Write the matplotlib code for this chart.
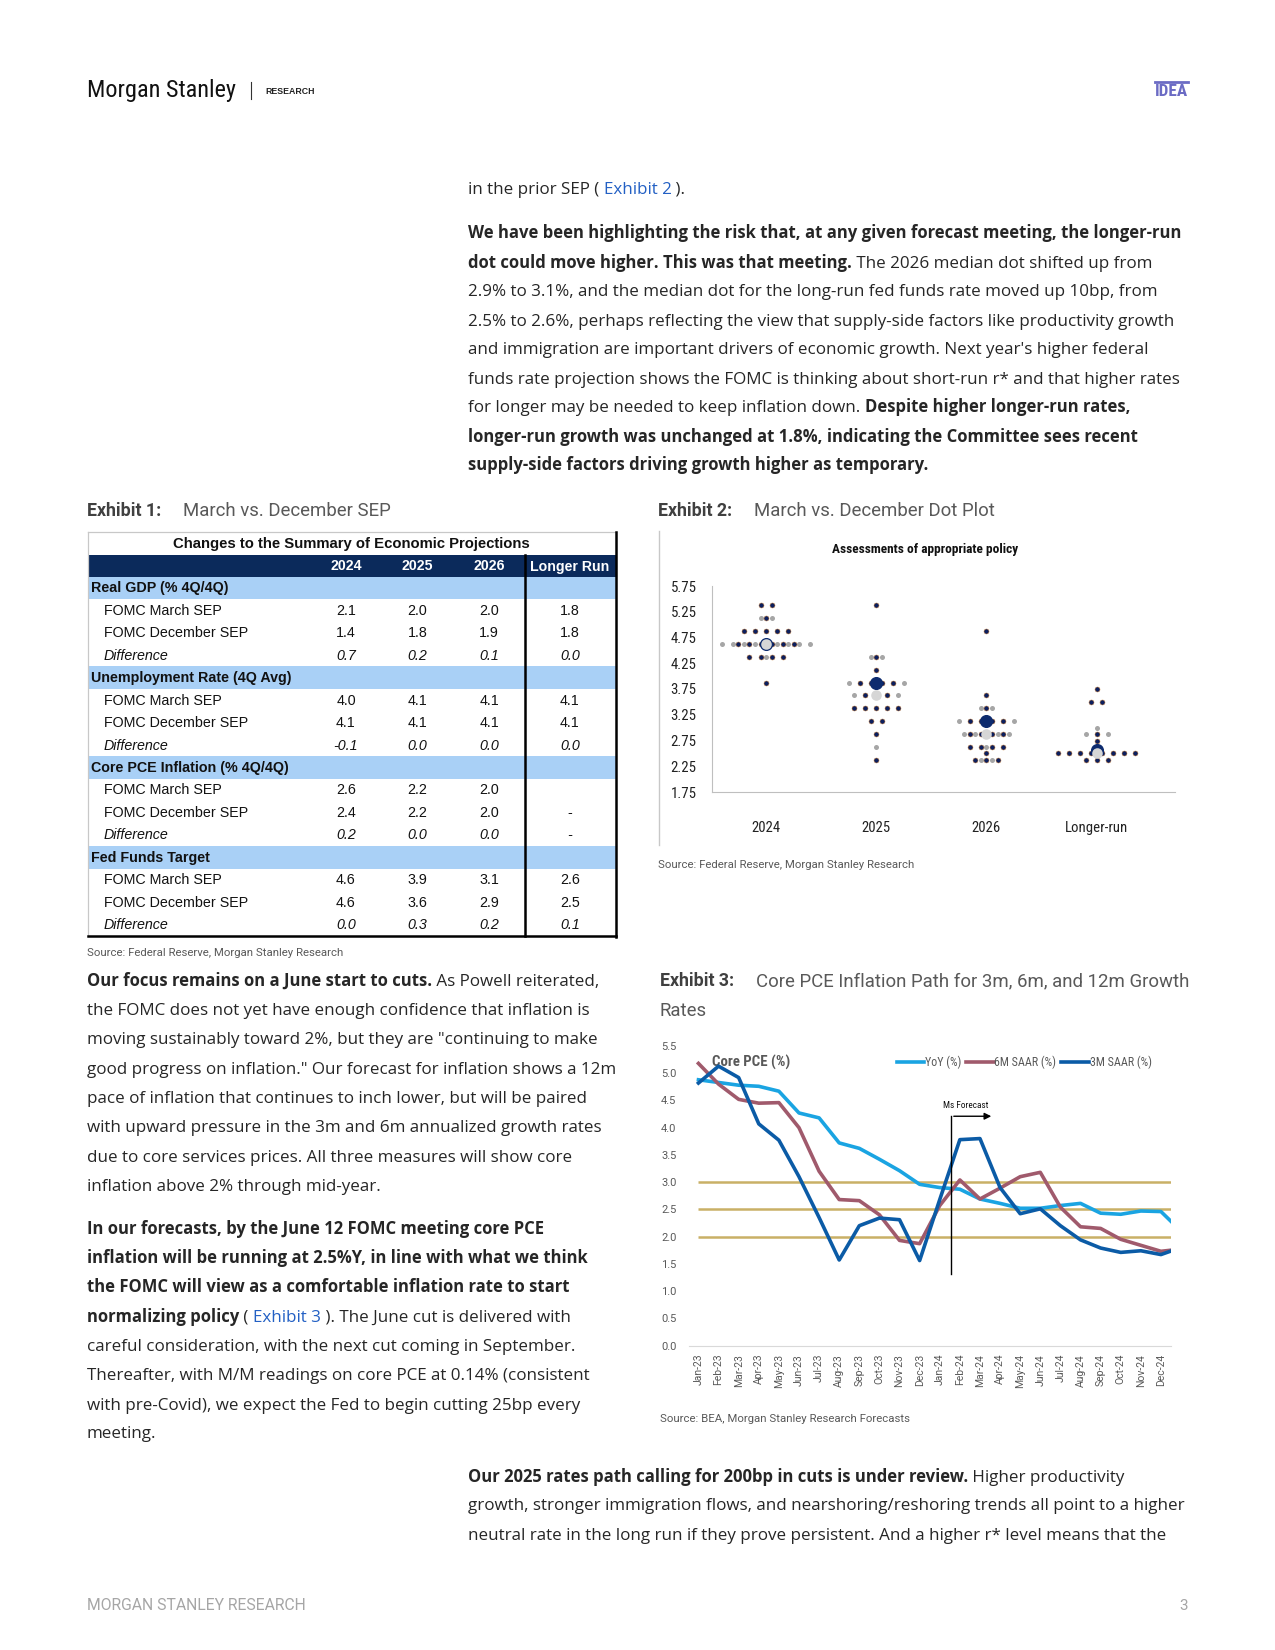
import matplotlib
matplotlib.use("Agg")
import matplotlib.pyplot as plt
from matplotlib.lines import Line2D
from matplotlib import font_manager
import numpy as np

W, H = 1275, 1650

# ---------------- Exhibit 1 data ----------------
sep_cols = ["2024", "2025", "2026", "Longer Run"]
sep_sections = ["Real GDP (% 4Q/4Q)", "Unemployment Rate (4Q Avg)",
                "Core PCE Inflation (% 4Q/4Q)", "Fed Funds Target"]
sep_rows = ["FOMC March SEP", "FOMC December SEP", "Difference"]
gdp_vals = [["2.1", "2.0", "2.0", "1.8"], ["1.4", "1.8", "1.9", "1.8"], ["0.7", "0.2", "0.1", "0.0"]]
unemp_vals = [["4.0", "4.1", "4.1", "4.1"], ["4.1", "4.1", "4.1", "4.1"], ["-0.1", "0.0", "0.0", "0.0"]]
pce_vals = [["2.6", "2.2", "2.0", ""], ["2.4", "2.2", "2.0", "-"], ["0.2", "0.0", "0.0", "-"]]
ffr_vals = [["4.6", "3.9", "3.1", "2.6"], ["4.6", "3.6", "2.9", "2.5"], ["0.0", "0.3", "0.2", "0.1"]]

# ---------------- Exhibit 2 data (rate, number of dots) ----------------
dot_cats = ["2024", "2025", "2026", "Longer-run"]
mar_2024 = [(5.375, 2), (5.125, 1), (4.875, 5), (4.625, 6), (4.375, 4), (3.875, 1)]
mar_2025 = [(5.375, 1), (4.375, 1), (4.125, 1), (3.875, 4), (3.625, 3), (3.375, 5),
            (3.125, 2), (2.875, 1), (2.375, 1)]
mar_2026 = [(4.875, 1), (3.625, 1), (3.375, 1), (3.125, 4), (2.875, 4), (2.625, 4),
            (2.5, 1), (2.375, 3)]
mar_lr = [(3.75, 1), (3.5, 2), (2.875, 1), (2.75, 1), (2.625, 1), (2.5, 8), (2.375, 3)]
dec_2024 = [(5.125, 2), (4.875, 5), (4.625, 9), (4.375, 1)]
dec_2025 = [(4.375, 2), (3.875, 6), (3.625, 5), (3.375, 5), (2.625, 1)]
dec_2026 = [(3.375, 2), (3.125, 6), (2.875, 5), (2.625, 1), (2.375, 2)]
dec_lr = [(3.0, 1), (2.875, 3), (2.5, 6)]
mar_medians = [4.625, 3.875, 3.125, 2.5625]
dec_medians = [4.625, 3.625, 2.875, 2.5]
dot_yticks = [5.75, 5.25, 4.75, 4.25, 3.75, 3.25, 2.75, 2.25, 1.75]

# ---------------- Exhibit 3 data ----------------
months = ["Jan-23", "Feb-23", "Mar-23", "Apr-23", "May-23", "Jun-23", "Jul-23", "Aug-23",
          "Sep-23", "Oct-23", "Nov-23", "Dec-23", "Jan-24", "Feb-24", "Mar-24", "Apr-24",
          "May-24", "Jun-24", "Jul-24", "Aug-24", "Sep-24", "Oct-24", "Nov-24", "Dec-24"]
yoy = [4.88, 4.83, 4.78, 4.76, 4.67, 4.27, 4.18, 3.72, 3.62, 3.42, 3.21, 2.96, 2.90,
       2.87, 2.69, 2.61, 2.52, 2.52, 2.57, 2.61, 2.43, 2.41, 2.47, 2.46, 2.10]
saar6 = [5.18, 4.80, 4.52, 4.45, 4.46, 4.00, 3.20, 2.68, 2.66, 2.40, 1.93, 1.87, 2.57,
         3.04, 2.69, 2.89, 3.10, 3.18, 2.54, 2.18, 2.15, 1.95, 1.84, 1.73, 1.77]
saar3 = [4.82, 5.13, 4.92, 4.07, 3.77, 3.10, 2.35, 1.57, 2.20, 2.34, 2.31, 1.56, 2.68,
         3.78, 3.80, 2.90, 2.42, 2.51, 2.20, 1.94, 1.79, 1.71, 1.74, 1.67, 1.80]
ref_levels = [3.0, 2.5, 2.0]
forecast_start = 12.56

names = {f.name for f in font_manager.fontManager.ttflist}


def pick(cands, default):
    for c in cands:
        if c in names:
            return c
    return default


NARROW = pick(["Roboto Condensed", "Arial Narrow", "Liberation Sans Narrow", "Archivo Narrow",
               "Asap Condensed"], "DejaVu Sans")
ARIAL = "Liberation Sans"
BODY = "Open Sans"
ROB = "Roboto"

fig = plt.figure(figsize=(W / 100, H / 100), dpi=100)
fig.patch.set_facecolor("white")
renderer = fig.canvas.get_renderer()


def fx(x):
    return x / W


def fy(y):
    return 1 - y / H


def rect(l, t, r, b):
    return [l / W, 1 - b / H, (r - l) / W, (b - t) / H]


_bar_w = {}


def seg_width(s, **kw):
    key = tuple(sorted(kw.items()))
    if key not in _bar_w:
        t = fig.text(0, 0, "|", **kw)
        _bar_w[key] = t.get_window_extent(renderer).width
        t.remove()
    t = fig.text(0, 0, s + "|", **kw)
    w = t.get_window_extent(renderer).width - _bar_w[key]
    t.remove()
    return w


def fit(s, target, **kw):
    # font size that makes s about target pixels wide
    return 10.0 * target / seg_width(s, fontsize=10.0, **kw)


STY = {"n": dict(color="#262626", fontsize=12.25),
       "b": dict(color="#262626", fontweight="bold", fontsize=11.97),
       "l": dict(color="#2360c4", fontsize=12.25)}


def body_line(x, y, segs):
    # y is the line's middle; all pieces share one baseline
    for s, st in segs:
        kw = dict(family=BODY, **STY[st])
        fig.text(fx(x), fy(y + 4.5), s, va="baseline", ha="left", **kw)
        x += seg_width(s, **kw)


# ---------------- header / footer ----------------
ms_size = fit("Morgan Stanley", 149, family=NARROW)
fig.text(fx(87), fy(90), "Morgan Stanley", family=NARROW, fontsize=ms_size, color="#111111",
         va="center")
fig.add_artist(Line2D([fx(250.5), fx(250.5)], [fy(82), fy(99)], color="#333333", lw=0.8))
fig.text(fx(265), fy(91), "RESEARCH", family=ARIAL, fontsize=6.3, fontweight="bold",
         color="#222222", va="center")
idea_size = fit("IDEA", 33, family=NARROW, fontweight="bold")
fig.text(fx(1188), fy(91.5), "IDEA", family=NARROW, fontsize=idea_size, fontweight="bold",
         color="#6b6bc4", va="center", ha="right")
fig.add_artist(Line2D([fx(1155), fx(1188)], [fy(81.5), fy(81.5)], color="#6b6bc4", lw=2))
fig.text(fx(87), fy(1606), "MORGAN STANLEY RESEARCH", family=ROB, fontsize=11.3,
         color="#a6a6a6", va="center")
fig.text(fx(1188), fy(1606), "3", family=ROB, fontsize=11, color="#a6a6a6",
         va="center", ha="right")

# ---------------- body text ----------------
RX, LX = 468, 87
right_top = [
    [("in the prior SEP ( ", "n"), ("Exhibit 2", "l"), (" ).", "n")],
    [("We have been highlighting the risk that, at any given forecast meeting, the longer-run", "b")],
    [("dot could move higher. This was that meeting.", "b"), (" The 2026 median dot shifted up from", "n")],
    [("2.9% to 3.1%, and the median dot for the long-run fed funds rate moved up 10bp, from", "n")],
    [("2.5% to 2.6%, perhaps reflecting the view that supply-side factors like productivity growth", "n")],
    [("and immigration are important drivers of economic growth. Next year's higher federal", "n")],
    [("funds rate projection shows the FOMC is thinking about short-run r* and that higher rates", "n")],
    [("for longer may be needed to keep inflation down. ", "n"), ("Despite higher longer-run rates,", "b")],
    [("longer-run growth was unchanged at 1.8%, indicating the Committee sees recent", "b")],
    [("supply-side factors driving growth higher as temporary.", "b")],
]
right_top_y = [189.5, 234, 263, 292, 321, 350, 379, 408, 437, 466]
for segs, y in zip(right_top, right_top_y):
    body_line(RX, y, segs)

left_body = [
    [("Our focus remains on a June start to cuts.", "b"), (" As Powell reiterated,", "n")],
    [("the FOMC does not yet have enough confidence that inflation is", "n")],
    [("moving sustainably toward 2%, but they are \"continuing to make", "n")],
    [("good progress on inflation.\" Our forecast for inflation shows a 12m", "n")],
    [("pace of inflation that continues to inch lower, but will be paired", "n")],
    [("with upward pressure in the 3m and 6m annualized growth rates", "n")],
    [("due to core services prices. All three measures will show core", "n")],
    [("inflation above 2% through mid-year.", "n")],
    [("In our forecasts, by the June 12 FOMC meeting core PCE", "b")],
    [("inflation will be running at 2.5%Y, in line with what we think", "b")],
    [("the FOMC will view as a comfortable inflation rate to start", "b")],
    [("normalizing policy", "b"), (" ( ", "n"), ("Exhibit 3", "l"), (" ). The June cut is delivered with", "n")],
    [("careful consideration, with the next cut coming in September.", "n")],
    [("Thereafter, with M/M readings on core PCE at 0.14% (consistent", "n")],
    [("with pre-Covid), we expect the Fed to begin cutting 25bp every", "n")],
    [("meeting.", "n")],
]
left_y = [981, 1010.5, 1040, 1069.5, 1098.5, 1128, 1157, 1186.5, 1229, 1258.5,
          1287.5, 1317, 1346.5, 1375.5, 1405, 1434]
for segs, y in zip(left_body, left_y):
    body_line(LX, y, segs)

bottom_body = [
    [("Our 2025 rates path calling for 200bp in cuts is under review.", "b"), (" Higher productivity", "n")],
    [("growth, stronger immigration flows, and nearshoring/reshoring trends all point to a higher", "n")],
    [("neutral rate in the long run if they prove persistent. And a higher r* level means that the", "n")],
]
for segs, y in zip(bottom_body, [1477, 1506, 1535]):
    body_line(RX, y, segs)


# ---------------- exhibit titles / sources ----------------
def exhibit(x, y, num, title):
    fig.text(fx(x), fy(y), num, family=ROB, fontsize=12.8, fontweight="bold",
             color="#404040", va="center")
    fig.text(fx(x + 96), fy(y), title, family=ROB, fontsize=13.4, color="#595959", va="center")


exhibit(87, 511, "Exhibit 1:", "March vs. December SEP")
exhibit(658.5, 511, "Exhibit 2:", "March vs. December Dot Plot")
exhibit(659.5, 981, "Exhibit 3:", "Core PCE Inflation Path for 3m, 6m, and 12m Growth")
fig.text(fx(659.5), fy(1011.5), "Rates", family=ROB, fontsize=13.4, color="#595959", va="center")
for x, y, s in [(87, 953.5, "Source: Federal Reserve, Morgan Stanley Research"),
                (658.5, 864.5, "Source: Federal Reserve, Morgan Stanley Research"),
                (659.5, 1418.5, "Source: BEA, Morgan Stanley Research Forecasts")]:
    fig.text(fx(x), fy(y), s, family=ROB, fontsize=8.2, color="#595959", va="center")

# ---------------- Exhibit 1: table ----------------
axt = fig.add_axes(rect(80, 525, 625, 945))
axt.set_xlim(80, 625)
axt.set_ylim(945, 525)
axt.axis("off")
T_L, T_R, T_TOP, T_TB, T_HB, T_BOT, DIV = 88, 615.5, 531.5, 554.5, 576.5, 936, 525
rh = (T_BOT - T_HB) / 16
col_x = [346, 417.6, 489, 570]
axt.add_patch(plt.Rectangle((T_L, T_TB), T_R - T_L, T_HB - T_TB, color="#0b2a5b", lw=0))
axt.text((T_L + T_R) / 2, (T_TOP + T_TB) / 2 + 1, "Changes to the Summary of Economic Projections",
         ha="center", va="center", family=ARIAL, fontsize=10.7, fontweight="bold", color="#111111")
for cx, c in zip(col_x, sep_cols):
    axt.text(cx, (T_TB + T_HB) / 2 + 1, c, ha="center", va="center", family=ARIAL,
             fontsize=10.2, fontweight="bold", color="white")
for k, (sec, vals) in enumerate(zip(sep_sections, [gdp_vals, unemp_vals, pce_vals, ffr_vals])):
    y0 = T_HB + 4 * k * rh
    axt.add_patch(plt.Rectangle((T_L, y0), T_R - T_L, rh, color="#a9d0f6", lw=0))
    axt.text(T_L + 3, y0 + rh / 2 + 0.5, sec, ha="left", va="center", family=ARIAL,
             fontsize=10.3, fontweight="bold", color="#111111")
    for j, (lab, row) in enumerate(zip(sep_rows, vals)):
        yc = y0 + (j + 1) * rh + rh / 2 + 0.5
        st = "italic" if lab == "Difference" else "normal"
        axt.text(T_L + 16, yc, lab, ha="left", va="center", family=ARIAL, fontsize=10.3,
                 style=st, color="#111111")
        for cx, v in zip(col_x, row):
            axt.text(cx, yc, v, ha="center", va="center", family=ARIAL, fontsize=10.3,
                     style=st, color="#111111")
axt.plot([T_L, T_R], [T_TOP, T_TOP], color="#c8c8c8", lw=0.9)
axt.plot([T_L, T_L], [T_TOP, T_BOT], color="#c8c8c8", lw=0.9)
axt.plot([T_R, T_R], [T_TOP, T_BOT + 1], color="black", lw=1.8)
axt.plot([T_L, T_R], [T_BOT, T_BOT], color="black", lw=1.8)
axt.plot([DIV, DIV], [T_TB, T_BOT], color="black", lw=1.8)

# ---------------- Exhibit 2: dot plot ----------------
fig.add_artist(Line2D([fx(658.5), fx(658.5)], [fy(531), fy(845)], color="#c8c8c8", lw=1))
asm_size = fit("Assessments of appropriate policy", 186, family=NARROW, fontweight="bold")
fig.text(fx(925), fy(549), "Assessments of appropriate policy", family=NARROW, fontsize=asm_size,
         fontweight="bold", color="#111111", ha="center", va="center")
axd = fig.add_axes(rect(712, 586, 1175, 792))
half = 0.05


def offsets(n):
    return (np.arange(n) - (n - 1) / 2) * 2 * half


NAVY = "#0c1f5e"
for i, (mar, dec) in enumerate(zip([mar_2024, mar_2025, mar_2026, mar_lr],
                                   [dec_2024, dec_2025, dec_2026, dec_lr])):
    for rate, n in dec:
        axd.plot(i + offsets(n), [rate] * n, "o", ms=3.6, color="#a6a6a6", mec="none", zorder=2)
    for rate, n in mar:
        axd.plot(i + offsets(n), [rate] * n, "o", ms=3.6, color=NAVY, mec="#c8823f",
                 mew=0.35, zorder=3)
x_cat = np.arange(len(dot_cats))
axd.plot(x_cat, mar_medians, "o", ms=8.4, color="#0d2b6e", mec="#0d2b6e", zorder=4, ls="none")
axd.plot(x_cat, dec_medians, "o", ms=7.6, color="#d6d6d6", mec="none", zorder=5, ls="none")
axd.set_xlim(-0.49, 3.71)
axd.set_ylim(1.75, 5.75)
tick_size = fit("5.75", 26, family=NARROW)
cat_size = fit("Longer-run", 63, family=NARROW)
axd.set_yticks(dot_yticks)
axd.set_yticklabels(["%.2f" % v for v in dot_yticks], family=NARROW, fontsize=tick_size,
                    color="#222222")
axd.set_xticks(x_cat)
axd.set_xticklabels(dot_cats, family=NARROW, fontsize=cat_size, color="#222222")
axd.tick_params(length=0, axis="y", pad=11)
axd.tick_params(length=0, axis="x", pad=21)
for s in ["top", "right"]:
    axd.spines[s].set_visible(False)
for s in ["left", "bottom"]:
    axd.spines[s].set_color("#bfbfbf")

# ---------------- Exhibit 3: line chart ----------------
axl = fig.add_axes(rect(689, 1046, 1171, 1345.5))
x = np.arange(len(yoy))
axl.hlines(ref_levels, 0, len(yoy), color="#c9b066", lw=1.8, zorder=1)
axl.plot(x, yoy, color="#1aa4e2", lw=2.6, label="YoY (%)", zorder=3, solid_joinstyle="round")
axl.plot(x, saar6, color="#a05a6c", lw=2.6, label="6M SAAR (%)", zorder=3, solid_joinstyle="round")
axl.plot(x, saar3, color="#0b5ba6", lw=2.6, label="3M SAAR (%)", zorder=4, solid_joinstyle="round")
axl.plot([forecast_start, forecast_start], [1.31, 4.21], color="black", lw=1, zorder=5)
axl.annotate("", xy=(14.7, 4.21), xytext=(forecast_start, 4.21),
             arrowprops=dict(arrowstyle="-|>", color="black", lw=1, mutation_scale=10), zorder=5)
msf_size = fit("Ms Forecast", 45, family=NARROW)
axl.text(13.3, 4.4, "Ms Forecast", family=NARROW, fontsize=msf_size, ha="center", va="center",
         color="#111111")
cpce_size = fit("Core PCE (%)", 78, family=NARROW, fontweight="bold")
axl.text(0.65, 5.2, "Core PCE (%)", family=NARROW, fontsize=cpce_size, fontweight="bold",
         color="#595959", ha="left", va="center")
leg_size = fit("3M SAAR (%)", 62, family=NARROW)
leg = axl.legend(loc="center right", bbox_to_anchor=(0.982, 0.946), ncol=3, frameon=False,
                 handlelength=2.3, handletextpad=0.05, columnspacing=0.4,
                 prop=dict(family=NARROW, size=leg_size))
for t in leg.get_texts():
    t.set_color("#595959")
axl.set_xlim(-0.47, 23.5)
axl.set_ylim(0, 5.5)
axl.set_yticks(np.arange(0, 5.51, 0.5))
axl.set_yticklabels(["%.1f" % v for v in np.arange(0, 5.51, 0.5)], family=ROB, fontsize=8,
                    color="#595959")
axl.set_xticks(np.arange(len(months)))
axl.set_xticklabels(months, rotation=90, family=ROB, fontsize=7.5, color="#595959")
axl.tick_params(length=0, axis="y", pad=9)
axl.tick_params(length=0, axis="x", pad=6)
for s in ["top", "right", "left"]:
    axl.spines[s].set_visible(False)
axl.spines["bottom"].set_color("#d9d9d9")

fig.savefig("out.png", dpi=100, facecolor="white")
